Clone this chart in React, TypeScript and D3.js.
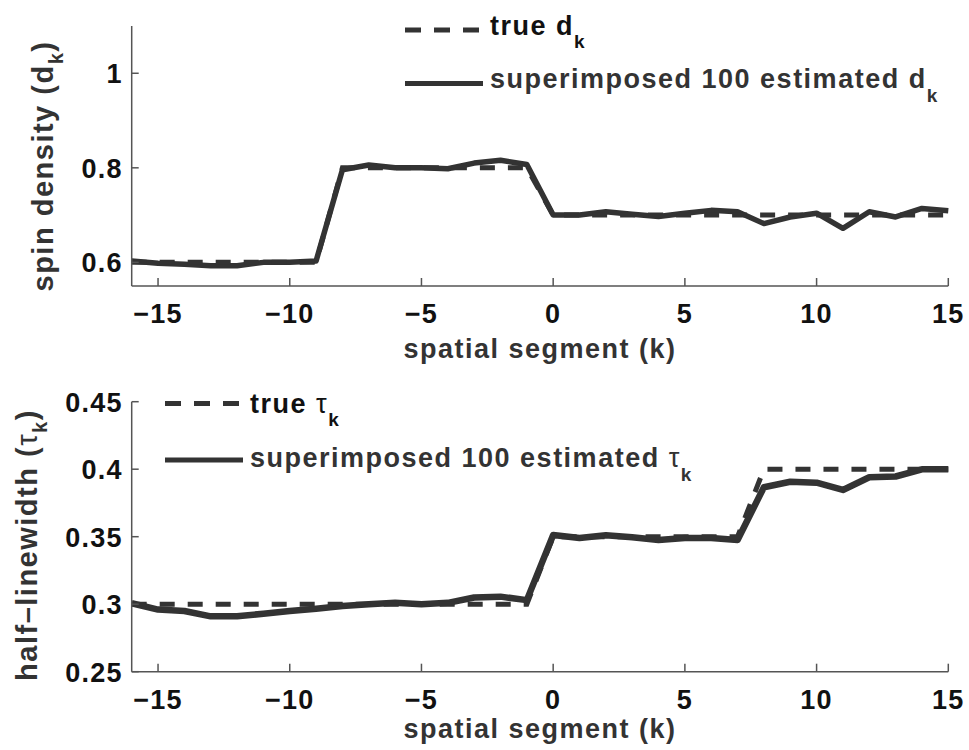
import React from "react";
import * as d3 from "d3";

// ---- data ----
const kValues = [-16, -15, -14, -13, -12, -11, -10, -9, -8, -7, -6, -5, -4, -3, -2, -1, 0, 1, 2, 3, 4, 5, 6, 7, 8, 9, 10, 11, 12, 13, 14, 15];

const trueD = [0.6, 0.6, 0.6, 0.6, 0.6, 0.6, 0.6, 0.6, 0.8, 0.8, 0.8, 0.8, 0.8, 0.8, 0.8, 0.8, 0.7, 0.7, 0.7, 0.7, 0.7, 0.7, 0.7, 0.7, 0.7, 0.7, 0.7, 0.7, 0.7, 0.7, 0.7, 0.7];
const estD = [0.603, 0.598, 0.596, 0.593, 0.593, 0.6, 0.6, 0.603, 0.796, 0.806, 0.8, 0.8, 0.798, 0.81, 0.816, 0.807, 0.7, 0.7, 0.707, 0.702, 0.697, 0.704, 0.71, 0.707, 0.682, 0.696, 0.704, 0.672, 0.707, 0.696, 0.714, 0.709];

const trueTau = [0.3, 0.3, 0.3, 0.3, 0.3, 0.3, 0.3, 0.3, 0.3, 0.3, 0.3, 0.3, 0.3, 0.3, 0.3, 0.3, 0.35, 0.35, 0.35, 0.35, 0.35, 0.35, 0.35, 0.35, 0.4, 0.4, 0.4, 0.4, 0.4, 0.4, 0.4, 0.4];
const estTau = [0.3007, 0.296, 0.295, 0.291, 0.291, 0.293, 0.295, 0.2967, 0.2987, 0.3, 0.301, 0.3, 0.301, 0.305, 0.3056, 0.303, 0.3513, 0.349, 0.351, 0.3496, 0.3476, 0.349, 0.349, 0.3476, 0.3866, 0.3907, 0.39, 0.3846, 0.394, 0.3946, 0.3999, 0.4];

const xTicks = [-15, -10, -5, 0, 5, 10, 15];
const yTicksTop = [0.6, 0.8, 1];
const yTicksBottom = [0.25, 0.3, 0.35, 0.4, 0.45];

const FONT = "'Liberation Sans', Arial, Helvetica, sans-serif";
const LINE = "#333";
const AXIS = "#555";

const xScale = d3.scaleLinear().domain([-16, 15]).range([131.7, 948.3]);
const yTop = d3.scaleLinear().domain([0.55, 1.1]).range([286, 26]);
const yBot = d3.scaleLinear().domain([0.25, 0.45]).range([671.7, 401.7]);

const fmtX = d3.format("d");
const fmtY = (v: number) => {
  const s = d3.format("~g")(v);
  return s;
};

function Panel(props: {
  y: d3.ScaleLinear<number, number>;
  yTicks: number[];
  trueVals: number[];
  estVals: number[];
  estWidth: number;
}) {
  const { y, yTicks, trueVals, estVals, estWidth } = props;
  const [x0, x1] = xScale.range();
  const [yb, yt] = y.range();
  const lineT = d3
    .line<number>()
    .x((_, i) => xScale(kValues[i]))
    .y((v) => y(v));
  return (
    <g>
      {/* data */}
      <path d={lineT(estVals) || ""} fill="none" stroke={LINE} strokeWidth={estWidth} strokeLinejoin="round" />
      <path d={lineT(trueVals) || ""} fill="none" stroke={LINE} strokeWidth={5} strokeDasharray="15 13" />
      {/* axes */}
      <line x1={x0} x2={x0} y1={yt} y2={yb} stroke={AXIS} strokeWidth={1.5} />
      <line x1={x0} x2={x1} y1={yb} y2={yb} stroke={AXIS} strokeWidth={1.5} />
      {xTicks.map((t) => (
        <g key={"x" + t}>
          <line x1={xScale(t)} x2={xScale(t)} y1={yb} y2={yb - 8} stroke={AXIS} strokeWidth={1.5} />
          <text
            x={xScale(t)}
            y={yb + 37}
            textAnchor="middle"
            fontFamily={FONT}
            fontWeight="bold"
            fontSize={27}
            letterSpacing={1.2}
            fill="#111"
          >
            {t < 0 ? "\u2212" + fmtX(-t) : fmtX(t)}
          </text>
        </g>
      ))}
      {yTicks.map((t) => (
        <g key={"y" + t}>
          <line x1={x0} x2={x0 + 7} y1={y(t)} y2={y(t)} stroke={AXIS} strokeWidth={1.5} />
          <text
            x={x0 - 9}
            y={y(t) + 10}
            textAnchor="end"
            fontFamily={FONT}
            fontWeight="bold"
            fontSize={27}
            letterSpacing={1.2}
            fill="#111"
          >
            {fmtY(t)}
          </text>
        </g>
      ))}
    </g>
  );
}

function Legend(props: {
  x: number;
  dashY: number;
  solidY: number;
  trueBase: number;
  solidBase: number;
  sym: string;
  symItalicSerif: boolean;
}) {
  const { x, dashY, solidY, trueBase, solidBase, sym, symItalicSerif } = props;
  const symWeight = symItalicSerif ? "normal" : "bold";
  return (
    <g fontFamily={FONT} fontSize={27} letterSpacing={1.5}>
      <line x1={x} x2={x + 78} y1={dashY} y2={dashY} stroke={LINE} strokeWidth={5} strokeDasharray="16 13" />
      <line x1={x} x2={x + 78} y1={solidY} y2={solidY} stroke={LINE} strokeWidth={5} />
      <text x={x + 85} y={trueBase} fill="#111" fontWeight="bold">
        true <tspan fontWeight={symWeight}>{sym}</tspan>
        <tspan dy={13} fontSize={19}>k</tspan>
      </text>
      <text x={x + 85} y={solidBase} fill="#333" fontWeight="bold">
        superimposed 100 estimated <tspan fontWeight={symWeight}>{sym}</tspan>
        <tspan dy={14} fontSize={19}>k</tspan>
      </text>
    </g>
  );
}

export default function App() {
  return (
    <svg
      width={969}
      height={750}
      style={{ position: "absolute", left: 0, top: 0, background: "#fff" }}
    >
      <rect width={969} height={750} fill="#fff" />
      <Panel y={yTop} yTicks={yTicksTop} trueVals={trueD} estVals={estD} estWidth={5.5} />
      <Panel y={yBot} yTicks={yTicksBottom} trueVals={trueTau} estVals={estTau} estWidth={6.5} />

      <Legend x={405} dashY={30} solidY={83.5} trueBase={35} solidBase={88} sym="d" symItalicSerif={false} />
      <Legend x={165} dashY={403.5} solidY={460} trueBase={413} solidBase={467} sym={"\u03c4"} symItalicSerif={true} />

      {/* x axis labels */}
      <text x={540} y={358} textAnchor="middle" fontFamily={FONT} fontWeight="bold" fontSize={27} letterSpacing={1.5} fill="#333">
        spatial segment (k)
      </text>
      <text x={540} y={738} textAnchor="middle" fontFamily={FONT} fontWeight="bold" fontSize={27} letterSpacing={1.5} fill="#333">
        spatial segment (k)
      </text>

      {/* y axis labels */}
      <text
        transform="translate(53,166) rotate(-90)"
        textAnchor="middle"
        fontFamily={FONT}
        fontWeight="bold"
        fontSize={29}
        letterSpacing={1.5}
        fill="#333"
      >
        spin density (d<tspan dy={10} fontSize={20}>k</tspan>
        <tspan dy={-10}>)</tspan>
      </text>
      <text
        transform="translate(37,545) rotate(-90)"
        textAnchor="middle"
        fontFamily={FONT}
        fontWeight="bold"
        fontSize={29}
        letterSpacing={1.5}
        fill="#333"
      >
        half{"\u2013"}linewidth (<tspan fontWeight="normal">{"\u03c4"}</tspan>
        <tspan dy={10} fontSize={20}>k</tspan>
        <tspan dy={-10}>)</tspan>
      </text>
    </svg>
  );
}
